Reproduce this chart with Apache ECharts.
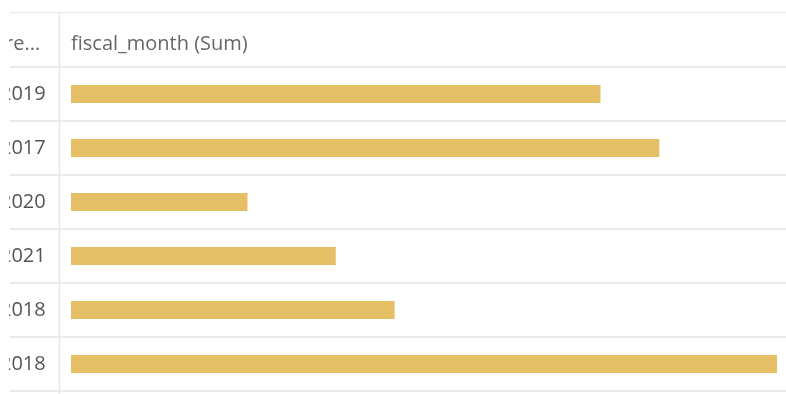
<!DOCTYPE html>
<html>
<head>
<meta charset="utf-8">
<script src="https://cdn.jsdelivr.net/npm/echarts@6/dist/echarts.min.js"></script>
<style>
  html, body { margin: 0; padding: 0; background: #fff; }
  #main { width: 786px; height: 394px; }
</style>
</head>
<body>
<div id="main"></div>
<script>
var years = ["2019", "2017", "2020", "2021", "2018", "2018"];
var fiscalMonthSum = [18, 20, 6, 9, 11, 24];
var headerLeft = "re...";
var headerRight = "fiscal_month (Sum)";

var chartDom = document.getElementById("main");
var myChart = echarts.init(chartDom, null, { renderer: "canvas" });
var font = "'Segoe UI', 'Open Sans', sans-serif";

var option = {
  animation: false,
  grid: [
    // bars
    { left: 71, right: 9, top: 67, bottom: 3, outerBoundsMode: "none" },
    // full-width row separators
    { left: 10, right: 0, top: 67, bottom: 3, outerBoundsMode: "none" }
  ],
  xAxis: [
    { type: "value", gridIndex: 0, min: 0, max: 24, show: false },
    { type: "value", gridIndex: 1, min: 0, max: 1, show: false }
  ],
  yAxis: [
    {
      type: "category",
      gridIndex: 0,
      data: years,
      inverse: true,
      axisLine: { show: false },
      axisTick: { show: false },
      axisLabel: {
        align: "left",
        margin: 71,
        color: "#555",
        fontSize: 20,
        fontFamily: font
      },
      splitLine: { show: false }
    },
    {
      type: "category",
      gridIndex: 1,
      data: years,
      inverse: true,
      axisLine: { show: false },
      axisTick: { show: false },
      axisLabel: { show: false },
      splitLine: {
        show: true,
        lineStyle: { color: "#e9e9e9", width: 2 }
      }
    }
  ],
  graphic: [
    {
      type: "line",
      shape: { x1: 10, y1: 12.5, x2: 786, y2: 12.5 },
      style: { stroke: "#ececec", lineWidth: 1.5 }
    },
    {
      type: "line",
      shape: { x1: 59.5, y1: 12, x2: 59.5, y2: 394 },
      style: { stroke: "#e6e6e6", lineWidth: 1.5 }
    },
    {
      type: "text",
      x: 5,
      y: 44,
      style: { text: headerLeft, fill: "#666", fontSize: 20, fontFamily: font, verticalAlign: "middle" }
    },
    {
      type: "text",
      x: 71,
      y: 44,
      style: { text: headerRight, fill: "#666", fontSize: 20, fontFamily: font, verticalAlign: "middle" }
    },
    {
      // left edge of the scrolled table cuts the first column
      type: "rect",
      z: 100,
      shape: { x: 0, y: 0, width: 9, height: 394 },
      style: { fill: "#fff" }
    }
  ],
  series: [
    {
      type: "bar",
      xAxisIndex: 0,
      yAxisIndex: 0,
      data: fiscalMonthSum,
      barWidth: 18,
      itemStyle: { color: "#e5bf65" }
    }
  ]
};

option && myChart.setOption(option);
</script>
</body>
</html>
